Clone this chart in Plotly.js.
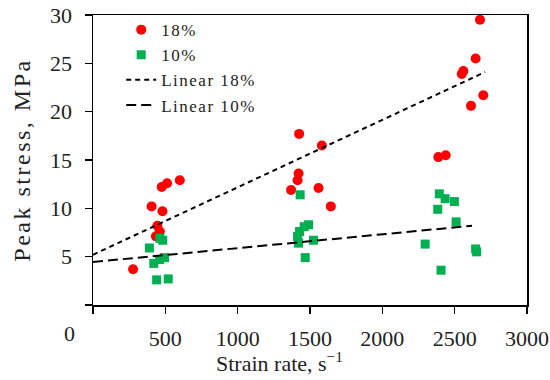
<!DOCTYPE html>
<html>
<head>
<meta charset="utf-8">
<script src="https://cdn.plot.ly/plotly-3.0.1.min.js"></script>
<style>
html,body{margin:0;padding:0;background:#fff;}
#chart{width:550px;height:380px;}
.ytitle{letter-spacing:2.5px;}
.legendtext{letter-spacing:1.5px;}
</style>
</head>
<body>
<div id="chart"></div>
<script>
// Data
const red18X = [600, 512, 475, 405, 480, 445, 462, 435, 277, 1425, 1582, 1421, 1414, 1369, 1559, 1644, 2675, 2645, 2549, 2560, 2698, 2613, 2387, 2438];
const red18Y = [12.9, 12.6, 12.2, 10.2, 9.7, 8.2, 7.6, 7.1, 3.7, 17.7, 16.5, 13.6, 12.9, 11.9, 12.1, 10.2, 29.5, 25.5, 23.9, 24.2, 21.7, 20.6, 15.3, 15.5];
const green10X = [462, 482, 390, 420, 460, 495, 440, 520, 1432, 1490, 1460, 1428, 1414, 1421, 1524, 1467, 2394, 2434, 2498, 2383, 2510, 2296, 2645, 2652, 2406];
const green10Y = [6.9, 6.7, 5.9, 4.3, 4.7, 4.9, 2.6, 2.7, 11.4, 8.3, 8.1, 7.6, 7.1, 6.4, 6.7, 4.9, 11.5, 11.0, 10.7, 9.9, 8.6, 6.3, 5.8, 5.5, 3.6];
const trend18X = [0, 2710];
const trend18Y = [5.2, 24.1];
const trend10X = [0, 2620];
const trend10Y = [4.45, 8.2];
const xTickVals = [500, 1000, 1500, 2000, 2500, 3000];
const xTickText = ['500', '1000', '1500', '2000', '2500', '3000'];
const yTickVals = [5, 10, 15, 20, 25, 30];
const yTickText = ['5', '10', '15', '20', '25', '30'];
const originTick = [0];

const font = 'Liberation Serif, Times New Roman, serif';
const txt = '#222';

const traces = [
  {x: red18X, y: red18Y, mode: 'markers', type: 'scatter', name: '18%',
   marker: {color: '#FF0000', size: 10, symbol: 'circle'}},
  {x: green10X, y: green10Y, mode: 'markers', type: 'scatter', name: '10%',
   marker: {color: '#00B050', size: 9, symbol: 'square'}},
  {x: trend18X, y: trend18Y, mode: 'lines', type: 'scatter', name: 'Linear 18%',
   line: {color: '#000', width: 2, dash: '5px,4px'}},
  {x: trend10X, y: trend10Y, mode: 'lines', type: 'scatter', name: 'Linear 10%',
   line: {color: '#000', width: 2, dash: '10px,5px'}}
];

const minorTick = {tickmode: 'array', tickvals: originTick, ticks: 'outside', ticklen: 7,
                   tickwidth: 1.5, tickcolor: '#000', showgrid: false};

const layout = {
  width: 550, height: 380,
  margin: {l: 93, r: 23, t: 15, b: 75},
  paper_bgcolor: '#fff', plot_bgcolor: '#fff',
  font: {family: font, size: 22, color: txt},
  showlegend: true,
  legend: {x: 0.065, y: 1.01, xanchor: 'left', yanchor: 'top', bgcolor: 'rgba(0,0,0,0)',
           font: {family: font, size: 17, color: txt}, tracegroupgap: 0},
  xaxis: {range: [0, 3000], tickmode: 'array', tickvals: xTickVals, ticktext: xTickText,
          showline: true, mirror: true, linecolor: '#000', linewidth: 1.5,
          ticks: 'outside', ticklen: 7, tickwidth: 1.5, tickcolor: '#000',
          ticklabelstandoff: 6, minor: minorTick,
          showgrid: false, zeroline: false,
          tickfont: {family: font, size: 22, color: txt}},
  yaxis: {range: [0, 30], tickmode: 'array', tickvals: yTickVals, ticktext: yTickText,
          showline: true, mirror: true, linecolor: '#000', linewidth: 1.5,
          ticks: 'outside', ticklen: 7, tickwidth: 1.5, tickcolor: '#000',
          ticklabelstandoff: 8, minor: minorTick,
          showgrid: false, zeroline: false,
          tickfont: {family: font, size: 22, color: txt},
          title: {text: 'Peak stress, MPa', font: {family: font, size: 24, color: txt}, standoff: 12}},
  annotations: [
    {text: '0', xref: 'paper', yref: 'paper', x: -0.054, y: 0, xanchor: 'center', yanchor: 'top',
     yshift: -14, showarrow: false, font: {family: font, size: 22, color: txt}},
    {text: 'Strain rate, s<sup>−1</sup>', xref: 'paper', yref: 'paper', x: 0.43, y: 0,
     xanchor: 'center', yanchor: 'middle', yshift: -57, showarrow: false,
     font: {family: font, size: 22, color: txt}}
  ]
};

Plotly.newPlot('chart', traces, layout, {displayModeBar: false, staticPlot: true});
</script>
</body>
</html>
